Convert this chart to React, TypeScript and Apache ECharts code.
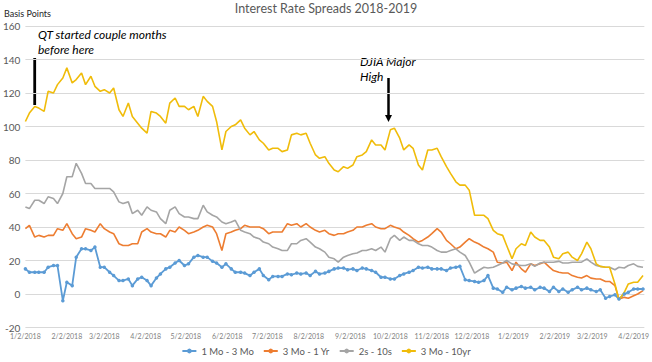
import React, { useEffect, useRef } from "react";
import * as echarts from "echarts";

const dates = [
  "2018-01-02","2018-01-05","2018-01-09","2018-01-12","2018-01-16","2018-01-19","2018-01-23","2018-01-26","2018-01-30",
  "2018-02-02","2018-02-06","2018-02-09","2018-02-13","2018-02-16","2018-02-20","2018-02-23","2018-02-27",
  "2018-03-02","2018-03-06","2018-03-09","2018-03-13","2018-03-16","2018-03-20","2018-03-23","2018-03-27","2018-03-30",
  "2018-04-03","2018-04-06","2018-04-10","2018-04-13","2018-04-17","2018-04-20","2018-04-24","2018-04-27",
  "2018-05-01","2018-05-04","2018-05-08","2018-05-11","2018-05-15","2018-05-18","2018-05-22","2018-05-25","2018-05-29",
  "2018-06-01","2018-06-05","2018-06-08","2018-06-12","2018-06-15","2018-06-19","2018-06-22","2018-06-26","2018-06-29",
  "2018-07-03","2018-07-06","2018-07-10","2018-07-13","2018-07-17","2018-07-20","2018-07-24","2018-07-27","2018-07-31",
  "2018-08-03","2018-08-07","2018-08-10","2018-08-14","2018-08-17","2018-08-21","2018-08-24","2018-08-28","2018-08-31",
  "2018-09-04","2018-09-07","2018-09-11","2018-09-14","2018-09-18","2018-09-21","2018-09-25","2018-09-28",
  "2018-10-02","2018-10-05","2018-10-09","2018-10-12","2018-10-16","2018-10-19","2018-10-23","2018-10-26","2018-10-30",
  "2018-11-02","2018-11-06","2018-11-09","2018-11-13","2018-11-16","2018-11-20","2018-11-23","2018-11-27","2018-11-30",
  "2018-12-04","2018-12-07","2018-12-11","2018-12-14","2018-12-18","2018-12-21","2018-12-25","2018-12-28",
  "2019-01-01","2019-01-04","2019-01-08","2019-01-11","2019-01-15","2019-01-18","2019-01-22","2019-01-25","2019-01-29",
  "2019-02-01","2019-02-05","2019-02-08","2019-02-12","2019-02-15","2019-02-19","2019-02-22","2019-02-26",
  "2019-03-01","2019-03-05","2019-03-08","2019-03-12","2019-03-15","2019-03-19","2019-03-22","2019-03-26","2019-03-29",
  "2019-04-02","2019-04-05","2019-04-09",
];

const oneMoThreeMo = [
  15,13,13,13,13,16,17,17,-4,
  7,5,22,27,27,26,28,16,
  16,13,11,8,8,9,5,9,10,
  8,5,9.5,12,15,16,18.5,20,
  17,18,22,23,22,22,19.5,18.5,16,
  18,15,13,13,12.5,11,13,15,11,
  8.5,10.5,10.5,10.5,12,11.5,12.5,12,12.5,
  11,13.5,12,12.5,13.5,15,15.5,15.5,14.5,
  15,14,15.5,15,14,13,10,10,
  9,9,11,12,13,14,16,15.5,16,
  15,15,15,14,15.5,16,16.5,8.5,8,
  7.5,7,8,11,3.5,3,1,4,
  2.5,3.5,4.5,3.5,4,2.5,4,3.5,1.5,
  4,1.5,3,1,2.5,4,2.5,3.5,
  2.5,1.5,2.5,-2.5,-1.5,-0.5,-3,0,1,
  3,3,3,
];

const threeMoOneYr = [
  39,41,34,35,34,35,35,39,38,
  42,36,33,34,39,38,37,42,
  39,37,36,30,29,29,30,30,37,
  39,37,36,36,34,38,37,40,
  38,36,37,38,40,41,40,36,26,
  36,37,38,39,41,40,40,40,39,
  36,37,37,37,42,41,42,40,42,
  40,38,37,38,36,35,36,36,37,
  38,40,40,41,42,40,39,39,
  41,40,39,37,35,33,31,32,34,
  36,39,37,32,30,27,28,31,33,
  31,30,28,27,25,19,18.5,19,
  14,19,15,13,18,17,18,19,16,
  14,13,12.5,12.5,11,10,9.5,11,
  9.5,9,9,7.5,7.5,5,-3,-2,-2.5,
  -1,0,2,
];

const twoTen = [
  52,51,56,56,54,58,57,54,60,
  70,70,78,72,66,66,63,63,
  63,63,61,55,54,55,48,50,47,
  52,50,49,45,42,50,52,48,
  46,46,45,45,53,49,47,46,43,
  42,43,44,38,37,36,34,33,31,
  30,28,27,26,26,30,30,32,33,
  31,28,27,25,22,21,19,22,23,
  24,24.5,26,26,27,26,28,25,
  33,35,32,34,32,32,30,29,29,
  28,26,25,25,26,27,25,23,19,
  12.5,14,16,15.5,16,17,18.5,20,
  18,17.5,17,17,18,16.5,18.5,19,19,
  19,19.5,18.5,18.5,19,19,19,21,
  19,17,16.5,16,16,14.5,16,15.5,17,
  18,16.5,16,
];

const threeMoTenYr = [
  103,108,112,111,109,121,120,125,129,
  135,126,128,132,125,130,124,121,
  122,120,123,110,106,114,106,102,99,
  96,109,108,106,102,114,117,112,
  112,110,112,106,118,115,112,103,86,
  97,100,101,104,99,95,97,92,90,
  86,87,87,85,86,95,96,95,96,
  90,83,81,82,78,74,73,76,75,
  77,82,83,85,92,89,89,86,
  98,99,93,86,89,87,77,74,86,
  86,87,82,76,72,67,65,65,62,
  47,47,47,45,38,36,35,29,
  21,27,30,29,37,34,32,32,28,
  22,21,24,25,22,20,24,31,
  27,18,16.5,16,16,6,-3.5,1,6,
  7,7,11,
];

const monthTicks = [
  "2018-01-02","2018-02-02","2018-03-02","2018-04-02","2018-05-02","2018-06-02","2018-07-02","2018-08-02",
  "2018-09-02","2018-10-02","2018-11-02","2018-12-02","2019-01-02","2019-02-02","2019-03-02","2019-04-02",
];

const axisStart = "2018-01-02";
const axisEnd = "2019-04-10";

const seriesNames = ["1 Mo - 3 Mo", "3 Mo - 1 Yr", "2s - 10s", "3 Mo - 10yr"];
const colors = ["#5B9BD5", "#ED7D31", "#A5A5A5", "#F0BC0A"];

const DAY = 86400000;
function utc(s: string): number {
  const [y, m, d] = s.split("-").map(Number);
  return Date.UTC(y, m - 1, d);
}
const START = utc(axisStart);
// day offset from the axis start (x axis is a day-count value axis)
function dayOf(s: string): number {
  return Math.round((utc(s) - START) / DAY);
}
function labelOf(day: number): string {
  const d = new Date(START + Math.round(day) * DAY);
  return `${d.getUTCMonth() + 1}/${d.getUTCDate()}/${d.getUTCFullYear()}`;
}

const FONT = "Lato, 'Noto Sans', sans-serif";

export default function App() {
  const ref = useRef<HTMLDivElement>(null);
  useEffect(() => {
    document.body.style.margin = "0";
    if (!ref.current) return;
    const chart = echarts.init(ref.current, null, { renderer: "svg" });
    const pair = (vals: number[]) => dates.map((d, i) => [dayOf(d), vals[i]]);
    const allVals = [oneMoThreeMo, threeMoOneYr, twoTen, threeMoTenYr];
    const series: any[] = allVals.map((vals, i) => ({
      name: seriesNames[i],
      type: "line",
      data: pair(vals),
      symbol: i === 0 ? "circle" : "none",
      symbolSize: 3.5,
      showAllSymbol: true,
      lineStyle: { width: i === 0 ? 1.8 : 1.6, color: colors[i] },
      itemStyle: { color: colors[i] },
      emphasis: { disabled: true },
    }));
    chart.setOption({
      animation: false,
      title: [
        {
          text: "Interest Rate Spreads 2018-2019",
          left: "center",
          top: 2,
          padding: 0,
          textStyle: { fontFamily: FONT, fontSize: 12.5, fontWeight: "normal", color: "#595959" },
        },
        {
          text: "Basis Points",
          left: 4,
          top: 9,
          padding: 0,
          textStyle: { fontFamily: FONT, fontSize: 9, fontWeight: "normal", color: "#262626" },
        },
      ],
      legend: {
        data: seriesNames,
        left: "center",
        top: 346,
        padding: 0,
        itemWidth: 14,
        itemHeight: 6,
        itemGap: 9,
        textStyle: { fontFamily: FONT, fontSize: 9.5, color: "#595959" },
      },
      grid: { left: 25, right: 7, top: 26, bottom: 34.5, containLabel: false },
      xAxis: {
        type: "value",
        min: 0,
        max: dayOf(axisEnd),
        axisLine: { show: false },
        axisTick: { show: false },
        splitLine: { show: false },
        axisLabel: {
          customValues: monthTicks.map(dayOf),
          fontFamily: FONT,
          fontSize: 7,
          color: "#7F7F7F",
          margin: 5,
          hideOverlap: false,
          formatter: (v: number) => labelOf(v),
        },
      },
      yAxis: {
        type: "value",
        min: -20,
        max: 160,
        interval: 20,
        axisLine: { show: false },
        axisTick: { show: false },
        splitLine: { lineStyle: { color: "#D9D9D9", width: 1 } },
        axisLabel: { fontFamily: FONT, fontSize: 10, color: "#595959", margin: 5 },
      },
      graphic: [
        {
          type: "text",
          left: 38,
          top: 27,
          style: {
            text: "QT started couple months\nbefore here",
            fontFamily: FONT,
            fontSize: 12,
            fontStyle: "italic",
            lineHeight: 15,
            fill: "#000",
          },
        },
        {
          type: "line",
          shape: { x1: 34.7, y1: 58, x2: 34.7, y2: 105 },
          style: { stroke: "#000", lineWidth: 2.8 },
        },
        {
          type: "text",
          left: 360,
          top: 54,
          style: {
            text: "DJIA Major\nHigh",
            fontFamily: FONT,
            fontSize: 12,
            fontStyle: "italic",
            lineHeight: 15,
            fill: "#000",
          },
        },
        {
          type: "line",
          shape: { x1: 388.5, y1: 78, x2: 388.5, y2: 116 },
          style: { stroke: "#000", lineWidth: 2.5 },
        },
        {
          type: "polygon",
          shape: { points: [[385, 115], [392, 115], [388.5, 122]] },
          style: { fill: "#000" },
        },
      ],
      series,
    });
    return () => chart.dispose();
  }, []);
  return <div ref={ref} style={{ width: 652, height: 362 }} />;
}
